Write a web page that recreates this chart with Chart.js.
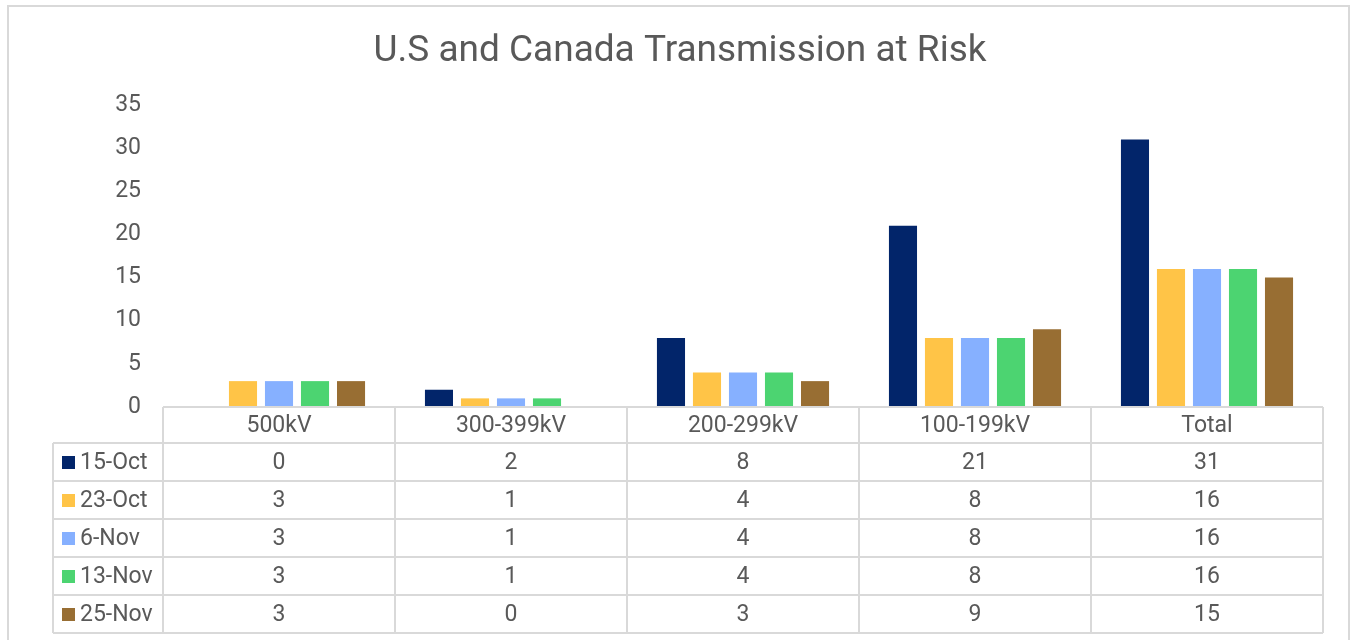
<!DOCTYPE html>
<html>
<head>
<meta charset="utf-8">
<script src="https://cdn.jsdelivr.net/npm/chart.js@4.4.1/dist/chart.umd.min.js"></script>
<style>
html,body{margin:0;padding:0;background:#fff;}
canvas{display:block;}
</style>
</head>
<body>
<canvas id="c" width="1353" height="640"></canvas>
<script>
const categories = ['500kV', '300-399kV', '200-299kV', '100-199kV', 'Total'];
const seriesNames = ['15-Oct', '23-Oct', '6-Nov', '13-Nov', '25-Nov'];
const oct15 = [0, 2, 8, 21, 31];
const oct23 = [3, 1, 4, 8, 16];
const nov6 = [3, 1, 4, 8, 16];
const nov13 = [3, 1, 4, 8, 16];
const nov25 = [3, 0, 3, 9, 15];
const seriesColors = ['#02256A', '#FFC447', '#86B0FF', '#4CD471', '#986E33'];
const titleText = 'U.S and Canada Transmission at Risk';

const seriesValues = [oct15, oct23, nov6, nov13, nov25];
const FONT = 'Roboto, "Noto Sans", sans-serif';
const TEXT = '#595959';
const LINE = '#d9d9d9';

const tablePlugin = {
  id: 'tablePlugin',
  afterDraw(chart) {
    const ctx = chart.ctx;
    const a = chart.chartArea;
    const xs = chart.scales.x;
    const n = categories.length;
    const colW = (a.right - a.left) / n;
    const headH = 36, rowH = 38;
    const labelLeft = 53;
    const top = a.bottom;
    const rowsTop = top + headH;
    const bottom = rowsTop + rowH * seriesValues.length;
    ctx.save();
    // outer border
    ctx.strokeStyle = LINE;
    ctx.lineWidth = 2;
    ctx.strokeRect(8, 6, 1341, 660);
    // title
    ctx.fillStyle = TEXT;
    ctx.font = '37px ' + FONT;
    ctx.textAlign = 'center';
    ctx.textBaseline = 'middle';
    ctx.fillText(titleText, (a.left + a.right) / 2 - 63, 52);
    // grid lines
    ctx.strokeStyle = LINE;
    ctx.lineWidth = 2;
    ctx.beginPath();
    ctx.moveTo(a.left, top); ctx.lineTo(a.right, top);
    for (let j = 0; j <= seriesValues.length; j++) {
      const y = rowsTop + j * rowH;
      ctx.moveTo(labelLeft, y); ctx.lineTo(a.right, y);
    }
    ctx.moveTo(labelLeft, rowsTop); ctx.lineTo(labelLeft, bottom);
    for (let i = 0; i <= n; i++) {
      const x = a.left + i * colW;
      ctx.moveTo(x, top); ctx.lineTo(x, bottom);
    }
    ctx.stroke();
    // header
    ctx.fillStyle = TEXT;
    ctx.font = '23px ' + FONT;
    ctx.textAlign = 'center';
    ctx.textBaseline = 'middle';
    categories.forEach((c, i) => {
      ctx.fillText(c, xs.getPixelForValue(i), top + headH / 2 + 1);
    });
    // rows
    seriesValues.forEach((vals, j) => {
      const yc = rowsTop + j * rowH + rowH / 2 + 1;
      ctx.fillStyle = seriesColors[j];
      ctx.fillRect(62, yc - 7, 13, 13);
      ctx.fillStyle = TEXT;
      ctx.textAlign = 'left';
      ctx.fillText(seriesNames[j], 80, yc);
      ctx.textAlign = 'center';
      vals.forEach((v, i) => {
        ctx.fillText(String(v), xs.getPixelForValue(i), yc);
      });
    });
    ctx.restore();
  }
};

new Chart(document.getElementById('c'), {
  type: 'bar',
  data: {
    labels: categories,
    datasets: seriesValues.map((vals, j) => ({
      label: seriesNames[j],
      data: vals,
      backgroundColor: seriesColors[j],
      borderWidth: 0,
      categoryPercentage: 0.776,
      barPercentage: 0.78
    }))
  },
  options: {
    responsive: false,
    animation: false,
    devicePixelRatio: 1,
    layout: { padding: { left: 0, right: 30, top: 105, bottom: 233 } },
    plugins: { legend: { display: false }, title: { display: false }, tooltip: { enabled: false } },
    scales: {
      x: { display: false },
      y: {
        min: 0, max: 35,
        ticks: { stepSize: 5, color: TEXT, font: { family: FONT, size: 23 }, padding: 22 },
        grid: { display: false, drawTicks: false, tickLength: 0 },
        border: { display: false },
        afterFit(s) { s.width = 163; }
      }
    }
  },
  plugins: [tablePlugin]
});
</script>
</body>
</html>
